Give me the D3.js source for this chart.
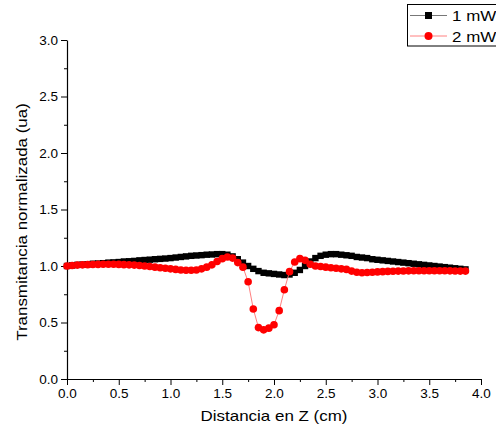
<!DOCTYPE html>
<html>
<head>
<meta charset="utf-8">
<script src="https://cdn.jsdelivr.net/npm/d3@7/dist/d3.min.js"></script>
<style>
  html, body { margin: 0; padding: 0; background: #fff; }
  svg { display: block; font-family: "Liberation Sans", Arial, sans-serif; }
</style>
</head>
<body>
<svg id="chart" width="496" height="437"></svg>
<script>
const zValues = [0.00,0.05,0.10,0.15,0.20,0.25,0.30,0.35,0.40,0.45,0.50,0.55,0.60,0.65,0.70,0.75,0.80,0.85,0.90,0.95,
  1.00,1.05,1.10,1.15,1.20,1.25,1.30,1.35,1.40,1.45,1.50,1.55,1.60,1.65,1.70,1.75,1.80,1.85,1.90,1.95,
  2.00,2.05,2.10,2.15,2.20,2.25,2.30,2.35,2.40,2.45,2.50,2.55,2.60,2.65,2.70,2.75,2.80,2.85,2.90,2.95,
  3.00,3.05,3.10,3.15,3.20,3.25,3.30,3.35,3.40,3.45,3.50,3.55,3.60,3.65,3.70,3.75,3.80,3.85];

const series1mW = [1.000,1.005,1.010,1.012,1.015,1.020,1.022,1.025,1.030,1.032,1.035,1.040,1.042,1.045,1.050,1.053,1.056,1.060,1.063,1.066,
  1.070,1.075,1.080,1.085,1.090,1.093,1.096,1.100,1.102,1.105,1.105,1.100,1.085,1.060,1.030,1.000,0.975,0.955,0.940,0.935,
  0.930,0.925,0.920,0.925,0.940,0.965,1.000,1.040,1.070,1.090,1.100,1.105,1.105,1.100,1.095,1.090,1.080,1.075,1.070,1.060,
  1.055,1.050,1.045,1.040,1.035,1.030,1.025,1.020,1.015,1.010,1.005,1.000,0.995,0.990,0.985,0.980,0.975,0.970];

const series2mW = [1.000,1.005,1.008,1.010,1.012,1.013,1.014,1.015,1.015,1.015,1.014,1.012,1.010,1.008,1.005,1.000,0.995,0.990,0.985,0.980,
  0.975,0.970,0.965,0.963,0.962,0.965,0.975,0.990,1.010,1.040,1.065,1.080,1.070,1.030,0.990,0.860,0.620,0.455,0.435,0.450,
  0.480,0.605,0.790,0.950,1.035,1.065,1.050,1.015,1.000,0.995,0.990,0.985,0.980,0.975,0.970,0.955,0.945,0.940,0.942,0.945,
  0.948,0.950,0.952,0.954,0.955,0.956,0.957,0.958,0.958,0.958,0.958,0.958,0.958,0.958,0.957,0.956,0.955,0.955];

const seriesNames = ["1 mW", "2 mW"];
const xTicks = [0.0,0.5,1.0,1.5,2.0,2.5,3.0,3.5,4.0];
const yTicks = [0.0,0.5,1.0,1.5,2.0,2.5,3.0];
const xMinorTicks = [0.25,0.75,1.25,1.75,2.25,2.75,3.25,3.75];
const yMinorTicks = [0.25,0.75,1.25,1.75,2.25,2.75];
const xTitle = "Distancia en Z (cm)";
const yTitle = "Transmitancia normalizada (ua)";

(function () {
const svg = d3.select("#chart");
const pLeft = 67, pRight = 481, pTop = 40, pBottom = 379;
const stretch = 1.13;

const x = d3.scaleLinear().domain([0, 4]).range([pLeft, pRight]);
const y = d3.scaleLinear().domain([0, 3]).range([pBottom, pTop]);

const xAxis = d3.axisBottom(x).tickValues(xTicks).tickFormat(d3.format(".1f")).tickSizeInner(6).tickSizeOuter(0).tickPadding(3);
const yAxis = d3.axisLeft(y).tickValues(yTicks).tickFormat(d3.format(".1f")).tickSizeInner(6).tickSizeOuter(0).tickPadding(3);

const gx = svg.append("g").attr("transform", `translate(0,${pBottom})`).call(xAxis);
const gy = svg.append("g").attr("transform", `translate(${pLeft},0)`).call(yAxis);

svg.append("g").attr("transform", `translate(0,${pBottom})`)
  .call(d3.axisBottom(x).tickValues(xMinorTicks).tickFormat("").tickSizeInner(3).tickSizeOuter(0))
  .select(".domain").remove();
svg.append("g").attr("transform", `translate(${pLeft},0)`)
  .call(d3.axisLeft(y).tickValues(yMinorTicks).tickFormat("").tickSizeInner(3).tickSizeOuter(0))
  .select(".domain").remove();

svg.selectAll(".tick line").attr("stroke", "#000").attr("stroke-width", 1);
svg.selectAll(".domain").attr("stroke", "#000").attr("stroke-width", 1.2);
gx.selectAll(".tick text").attr("font-size", 13.5).attr("fill", "#000").attr("font-family", "Liberation Sans, Arial, sans-serif");
gy.selectAll(".tick text").attr("font-size", 13.5).attr("fill", "#000").attr("font-family", "Liberation Sans, Arial, sans-serif");

svg.append("text").attr("transform", `translate(${(pLeft + pRight) / 2},421) scale(${stretch},1)`)
  .attr("text-anchor", "middle").attr("font-size", 15).attr("fill", "#000").text(xTitle);
svg.append("text").attr("transform", `translate(26.5,222) rotate(-90) scale(${stretch},1)`)
  .attr("text-anchor", "middle").attr("font-size", 15).attr("fill", "#000").text(yTitle);

const data1 = zValues.map((z, i) => ({ z, v: series1mW[i] }));
const data2 = zValues.map((z, i) => ({ z, v: series2mW[i] }));
const line = d3.line().x(d => x(d.z)).y(d => y(d.v));

svg.append("path").datum(data1).attr("d", line).attr("fill", "none").attr("stroke", "#000").attr("stroke-width", 0.8);
svg.append("g").selectAll("rect").data(data1).join("rect")
  .attr("x", d => x(d.z) - 3.2).attr("y", d => y(d.v) - 3.2)
  .attr("width", 6.4).attr("height", 6.4).attr("fill", "#000");

svg.append("path").datum(data2).attr("d", line).attr("fill", "none").attr("stroke", "#ff7070").attr("stroke-width", 0.9);
svg.append("g").selectAll("circle").data(data2).join("circle")
  .attr("cx", d => x(d.z)).attr("cy", d => y(d.v)).attr("r", 3.8).attr("fill", "#ff0000");

const lg = svg.append("g");
lg.append("rect").attr("x", 407.5).attr("y", 4.5).attr("width", 100).attr("height", 41.5)
  .attr("fill", "#fff").attr("stroke", "#000").attr("stroke-width", 1);
const rows = [15.5, 36];
lg.append("line").attr("x1", 410).attr("x2", 447).attr("y1", rows[0]).attr("y2", rows[0]).attr("stroke", "#777").attr("stroke-width", 1);
lg.append("rect").attr("x", 428.5 - 3.5).attr("y", rows[0] - 3.5).attr("width", 7).attr("height", 7).attr("fill", "#000");
lg.append("line").attr("x1", 410).attr("x2", 447).attr("y1", rows[1]).attr("y2", rows[1]).attr("stroke", "#ff8080").attr("stroke-width", 1);
lg.append("circle").attr("cx", 428.5).attr("cy", rows[1]).attr("r", 4).attr("fill", "#ff0000");
seriesNames.forEach((n, i) => {
  lg.append("text").attr("transform", `translate(452,${rows[i] + 5.5}) scale(${stretch},1)`)
    .attr("font-size", 15).attr("fill", "#000").text(n);
});
})();
</script>
</body>
</html>
